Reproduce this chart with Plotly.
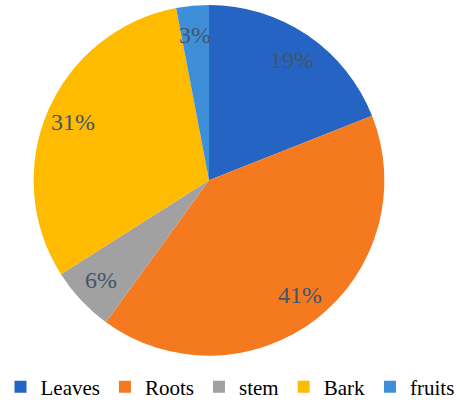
import math
import plotly.graph_objects as go

labels = ["Leaves", "Roots", "stem", "Bark", "fruits"]
values = [19, 41, 6, 31, 3]
colors = ["#2664C3", "#F57A1F", "#A1A1A1", "#FFBB00", "#3F8FD8"]

W, H = 460, 408
cx, cy, R = 209, 183, 178  # pie centre / radius in px
SERIF = "Times New Roman, Liberation Serif, DejaVu Serif, serif"

fig = go.Figure(go.Pie(
    labels=labels, values=values, sort=False, direction="clockwise", rotation=0,
    marker=dict(colors=colors, line=dict(width=0)),
    textinfo="none",
    domain=dict(x=[(cx - R) / W, (cx + R) / W], y=[1 - (cy + R) / H, 1 - (cy - R) / H]),
    hoverinfo="none",
))

# percentage labels placed along each slice's mid-angle
total = sum(values)
cum = 0
for v in values:
    mid = (cum + v / 2) / total * 2 * math.pi
    cum += v
    r = 0.83 * R
    px = cx + r * math.sin(mid)
    py = cy - r * math.cos(mid)
    fig.add_annotation(
        x=px / W, y=1 - py / H, xref="paper", yref="paper",
        text=f"{round(v / total * 100)}%", showarrow=False,
        xanchor="center", yanchor="middle",
        font=dict(family=SERIF, size=24, color="#44546A"),
    )

fig.update_layout(
    width=W, height=H, margin=dict(l=0, r=0, t=0, b=0),
    paper_bgcolor="white", plot_bgcolor="white",
    font=dict(family=SERIF),
    showlegend=True,
    legend=dict(orientation="h", x=0.5, xanchor="center", y=1 - 393 / H, yanchor="middle",
                font=dict(family=SERIF, size=21, color="#000000"),
                itemwidth=30, tracegroupgap=0),
)
fig.write_html("out.html")
